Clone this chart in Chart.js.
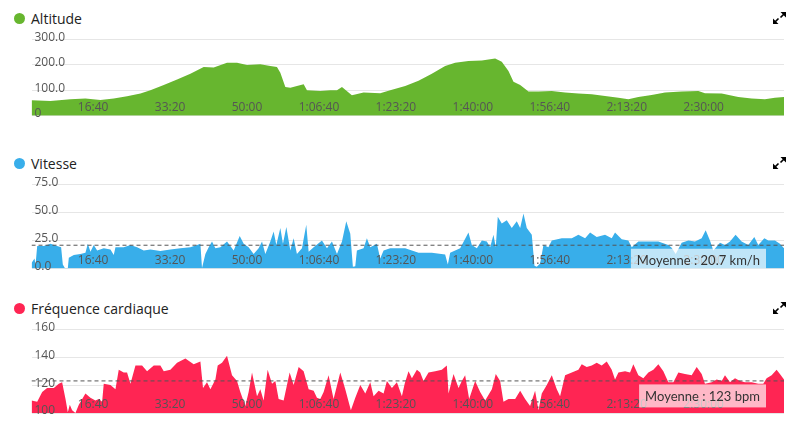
<!DOCTYPE html>
<html><head><meta charset="utf-8">
<script src="https://cdn.jsdelivr.net/npm/chart.js@4.4.1/dist/chart.umd.min.js"></script>
<style>
html,body{margin:0;padding:0;background:#fff;}
body{width:796px;height:429px;position:relative;overflow:hidden;font-family:'Open Sans',sans-serif;}
.title{position:absolute;left:31px;font-size:14px;line-height:16px;color:#222;white-space:nowrap;}
.dot{position:absolute;left:14px;width:11px;height:11px;border-radius:50%;}
canvas{position:absolute;left:0;}
.icon{position:absolute;left:772px;}
</style></head>
<body>
<div class="dot" style="top:13px;background:#67b62f"></div>
<div class="title" style="top:10.5px">Altitude</div>
<svg class="icon" style="top:11px" width="15" height="14" viewBox="0 0 15 14"><path d="M14 1 L8.5 1 L14 6.5 Z M1 13 L6.5 13 L1 7.5 Z" fill="#000"/><path d="M12 3 L8.5 6.5 M3 11 L6.5 7.5" stroke="#000" stroke-width="1.6"/></svg>
<canvas id="c1" width="796" height="140" style="top:0px"></canvas>

<div class="dot" style="top:158px;background:#38aeea"></div>
<div class="title" style="top:155.5px">Vitesse</div>
<svg class="icon" style="top:156px" width="15" height="14" viewBox="0 0 15 14"><path d="M14 1 L8.5 1 L14 6.5 Z M1 13 L6.5 13 L1 7.5 Z" fill="#000"/><path d="M12 3 L8.5 6.5 M3 11 L6.5 7.5" stroke="#000" stroke-width="1.6"/></svg>
<canvas id="c2" width="796" height="140" style="top:145px"></canvas>

<div class="dot" style="top:303px;background:#ff2553"></div>
<div class="title" style="top:300.5px">Fréquence cardiaque</div>
<svg class="icon" style="top:301px" width="15" height="14" viewBox="0 0 15 14"><path d="M14 1 L8.5 1 L14 6.5 Z M1 13 L6.5 13 L1 7.5 Z" fill="#000"/><path d="M12 3 L8.5 6.5 M3 11 L6.5 7.5" stroke="#000" stroke-width="1.6"/></svg>
<canvas id="c3" width="796" height="139" style="top:290px"></canvas>

<script>
// ---- data (time in seconds) ----
const xMax = 9780;
const xTickValues = [1000,2000,3000,4000,5000,6000,7000,8000,9000];
const xTickLabels = ['16:40','33:20','50:00','1:06:40','1:23:20','1:40:00','1:56:40','2:13:20','2:30:00'];

const altTimes = [0,247,506,701,896,1069,1242,1416,1545,1719,1892,2065,2238,2368,2541,2671,2801,2974,3104,3190,3234,3299,3364,3450,3537,3580,3753,3883,3970,4035,4164,4316,4532,4662,4857,5030,5203,5376,5506,5679,5853,6026,6112,6199,6264,6351,6459,6589,6762,6935,7108,7281,7454,7628,7757,7887,8060,8234,8450,8667,8753,8970,9186,9359,9532,9662,9780];
const altValues = [61,58,65,68,62,68,77,87,100,121,142,165,191,189,208,208,199,202,195,191,169,113,110,117,124,100,97,100,100,113,81,91,88,100,117,137,165,195,208,215,217,225,212,176,134,121,95,95,97,91,87,85,78,71,65,74,82,91,95,97,88,87,74,68,65,71,74];
const altTicks = [0,100,200,300];
const altTickLabels = ['0','100.0','200.0','300.0'];

const speedTimes = [0,39,52,74,160,247,333,385,407,433,
472,485,550,636,701,732,766,809,853,939,
1026,1069,1091,1199,1286,1372,1459,1545,1675,1805,
1935,2065,2152,2195,2216,2260,2303,2346,2390,2455,
2541,2628,2706,2758,2822,2887,2952,2996,3039,3104,
3147,3182,3234,3268,3312,3364,3407,3450,3515,3571,
3602,3667,3775,3840,3905,3970,4035,4091,4143,4177,
4208,4229,4316,4359,4403,4489,4532,4576,4662,4792,
4857,5030,5203,5376,5411,5441,5571,5679,5723,5788,
5853,5918,5961,6004,6034,6060,6112,6177,6242,6307,
6351,6394,6437,6502,6537,6567,6610,6654,6718,6762,
6892,7022,7108,7195,7260,7346,7454,7541,7584,7671,
7757,7801,7887,8017,8147,8277,8320,8372,8450,8537,
8623,8710,8762,8818,8861,8948,9013,9078,9151,9229,
9316,9394,9446,9524,9576,9662,9727,9780];
const speedValues = [5,9,3,20,20,22,20,19,3.5,0.5,
0.5,9.5,12,13,14,22,15,21,16,18,
17,12,19,19,21,19,16,17,15.5,17,
18,19,21,22,0.5,13,19,24,18,19,
24,16,29,22,19,13,18,24,13,24,
33,21,36,22,37,16,27,13,18,39,
15,19,25,18,24,13,24,42,31,1.5,
2,16,18,27,19,22,9,16,18,18,
18,14,14,12.5,3.5,14,18,32,21,18,
25,24,19,30,19,46,40,43,36,42,
36,49,36,30,2.4,1.5,4.5,21,19,25,
27,27,30,27,32,28,30,27,32,26,
25,19,24,24,24,21,18.5,13,23,25,
24,27,34,25,16,23,21,24,30,24,
21,28,21,27,25,25,22,18];
const speedMean = 20.7;
const speedMeanLabel = 'Moyenne : 20.7 km/h';
const speedTicks = [0,25,50,75];
const speedTickLabels = ['0.0','25.0','50.0','75.0'];

const hrTimes = [0,74,139,203,290,355,398,442,472,498,
528,571,615,701,766,831,874,918,939,1026,
1091,1134,1199,1242,1286,1351,1437,1502,1589,1675,
1719,1805,1892,2000,2108,2195,2229,2281,2325,2390,
2420,2476,2541,2606,2671,2714,2779,2822,2866,2931,
2974,3017,3069,3126,3169,3212,3277,3355,3407,3472,
3537,3602,3667,3710,3753,3797,3861,3926,4013,4078,
4151,4208,4273,4338,4403,4446,4511,4576,4619,4684,
4749,4814,4850,4900,4944,5009,5052,5095,5160,5247,
5333,5398,5420,5485,5550,5593,5636,5688,5766,5831,
5896,5983,6034,6091,6134,6199,6286,6351,6415,6480,
6545,6589,6632,6697,6762,6827,6870,6935,7022,7108,
7151,7216,7281,7346,7411,7476,7541,7584,7628,7714,
7779,7822,7887,7952,8017,8082,8147,8212,8277,8342,
8407,8493,8580,8645,8710,8753,8840,8905,8970,9013,
9078,9143,9208,9273,9359,9446,9511,9554,9619,9684,
9727,9780];
const hrValues = [109,108,115,118,118,121,122,110,100.5,106,
102,100,106,114,111,109,110,108,121,120,
117,131,129,129,121,134,134,130,134,134,
130,131,136,139,135,137,118,122,117,124,
134,136,141,127,123,115,105,115,129,112,
117,109,131,121,123,110,109,129,120,133,
130,117,116,111,110,115,127,110,129,117,
102,111,120,114,122,112,116,114,123,118,
122,112,121,130,125,131,129,123,129,130,
131,134,114,128,118,123,127,110,123,115,
109,117,128,123,108,110,110,116,110,105,
116,102,114,120,127,117,112,127,129,131,
135,133,134,136,134,137,131,124,129,130,
129,135,127,125,129,131,135,130,122,122,
129,128,127,133,128,121,122,124,123,127,
122,125,123,122,122,121,121,125,127,131,
128,124];
const hrMean = 123;
const hrMeanLabel = 'Moyenne : 123 bpm';
const hrTicks = [100,120,140,160];
const hrTickLabels = ['100','120','140','160'];

// ---- rendering ----
const FONT = "'Open Sans'";
function toXY(ts, vs){ return ts.map((t,i)=>({x:t, y:vs[i]})); }

const meanBox = {
  id:'meanBox',
  afterDraw(chart, args, opts){
    if(!opts || !opts.text) return;
    const {ctx, chartArea} = chart;
    const y = chart.scales.y.getPixelForValue(opts.value);
    ctx.save();
    ctx.font = "13px Lato";
    const w = ctx.measureText(opts.text).width + 12;
    const right = chartArea.right - 18;
    const top = y + 3.5;
    const h = 23;
    ctx.beginPath();
    ctx.rect(chartArea.left, chartArea.top, chartArea.right - chartArea.left, chartArea.bottom - chartArea.top);
    ctx.clip();
    ctx.fillStyle = 'rgba(255,255,255,0.68)';
    ctx.fillRect(right - w, top, w, h);
    ctx.fillStyle = '#333';
    ctx.textAlign = 'center';
    ctx.textBaseline = 'middle';
    ctx.fillText(opts.text, right - w/2, top + h/2 + 0.5);
    ctx.restore();
  }
};

function makeChart(id, times, values, color, ticks, tickLabels, mean, meanLabel, pad){
  const datasets = [{
    data: toXY(times, values), backgroundColor: color, borderColor: 'rgba(0,0,0,0)',
    borderWidth: 0, pointRadius: 0, pointHoverRadius: 0, fill: 'start', tension: 0, order: 1
  }];
  if (mean != null) {
    datasets.push({
      data: [{x:0, y:mean}, {x:xMax, y:mean}], borderColor: '#555', borderWidth: 1,
      borderDash: [4,3], pointRadius: 0, fill: false, order: 0
    });
  }
  const yMin = ticks[0], yMax = ticks[ticks.length-1];
  const setY = s => { s.ticks = ticks.map(v => ({value: v})); };
  const yLab = v => { const i = ticks.indexOf(v); return i >= 0 ? tickLabels[i] : ''; };
  return new Chart(document.getElementById(id), {
    type: 'line',
    data: { datasets },
    plugins: [meanBox],
    options: {
      responsive: false, animation: false, events: [],
      layout: { padding: pad },
      plugins: { legend: {display:false}, tooltip: {enabled:false}, meanBox: {text: meanLabel, value: mean} },
      scales: {
        x: {
          type: 'linear', min: 0, max: xMax,
          grid: {display:false, drawTicks:false}, border: {display:false},
          afterBuildTicks: s => { s.ticks = xTickValues.map(v => ({value: v})); },
          ticks: {
            z: 1, mirror: true, align: 'end', padding: 1, autoSkip: false, maxRotation: 0,
            color: '#555', font: {family: FONT, size: 12},
            callback: v => { const i = xTickValues.indexOf(v); return i >= 0 ? xTickLabels[i] : ''; }
          }
        },
        y: {
          type: 'linear', position: 'left', min: yMin, max: yMax, afterBuildTicks: setY,
          grid: {color: '#e6e6e6', drawTicks: false}, border: {display:false},
          ticks: { z: 1, mirror: true, padding: 3, labelOffset: -2, color: '#555', font: {family: FONT, size: 12}, callback: yLab }
        }
      }
    }
  });
}

makeChart('c1', altTimes, altValues, '#67b62f', altTicks, altTickLabels, null, null,
  {left: 25.5, right: 12, top: 39.3, bottom: 22.2});
makeChart('c2', speedTimes, speedValues, '#38aeea', speedTicks, speedTickLabels, speedMean, speedMeanLabel,
  {left: 25.5, right: 12, top: 39.2, bottom: 14.5});
makeChart('c3', hrTimes, hrValues, '#ff2553', hrTicks, hrTickLabels, hrMean, hrMeanLabel,
  {left: 25.5, right: 12, top: 39.3, bottom: 14});
</script>
</body></html>
